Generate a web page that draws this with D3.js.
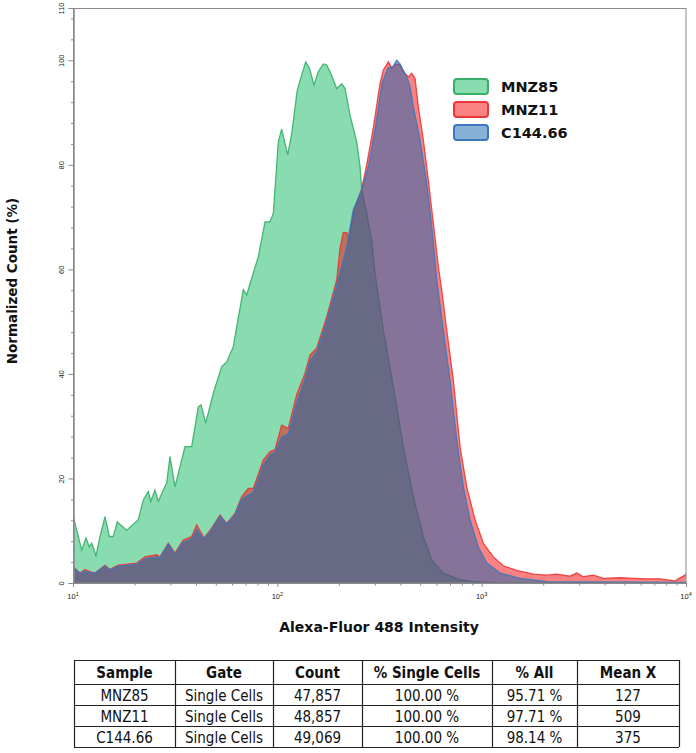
<!DOCTYPE html>
<html><head><meta charset="utf-8">
<script src="https://cdn.jsdelivr.net/npm/d3@7"></script>
<style>body{margin:0;background:#fff}</style>
</head><body><svg id="c" width="696" height="753"></svg>
<script>
const seriesNames = ["MNZ85", "MNZ11", "C144.66"];

const mnz85Intensity = [10.0, 11.03, 11.58, 12.02, 12.35, 12.96, 13.56, 14.34, 15.05, 15.75, 16.47, 18.31, 20.87, 22.08, 23.36, 24.01, 25.19, 26.15, 27.66, 28.74, 29.83, 31.56, 35.33, 38.10, 41.05, 42.32, 44.62, 48.60, 53.43, 56.52, 60.89, 63.26, 68.15, 70.81, 74.91, 80.70, 87.05, 92.07, 95.57, 101.1, 105.0, 112.4, 117.6, 125.2, 131.6, 137.7, 143.4, 151.2, 158.7, 167.9, 174.4, 182.4, 195.3, 206.5, 214.4, 226.8, 244.6, 253.9, 258.8, 273.8, 289.6, 300.6, 330.1, 369.4, 413.4, 462.9, 518.1, 569.5, 649.1, 783.4, 910.2, 1230, 10000];
const mnz85Count = [13.0, 6.3, 8.6, 6.9, 7.6, 5.2, 8.9, 12.7, 8.9, 8.9, 11.7, 10.1, 12.1, 15.9, 17.5, 15.6, 17.8, 15.6, 17.8, 19.1, 24.2, 18.4, 26.1, 26.1, 33.7, 34.1, 30.6, 36.3, 41.4, 42.3, 45.2, 49.0, 56.1, 55.1, 58.3, 62.4, 69.1, 69.1, 70.7, 84.4, 86.8, 81.9, 86.0, 94.3, 97.2, 99.7, 98.5, 95.3, 97.8, 99.3, 99.1, 97.5, 94.6, 95.5, 94.6, 89.5, 84.4, 79.7, 75.2, 70.7, 65.6, 59.2, 48.4, 37.6, 26.1, 16.5, 8.9, 4.4, 1.9, 0.6, 0.25, 0, 0];

const mnz11Intensity = [10.0, 10.82, 11.45, 12.11, 12.81, 14.34, 15.17, 16.66, 20.50, 22.51, 25.68, 26.66, 29.27, 31.56, 34.66, 38.10, 40.32, 43.77, 47.72, 52.42, 56.52, 62.06, 66.91, 72.09, 76.29, 85.36, 92.07, 97.41, 105.0, 113.2, 124.4, 136.6, 144.5, 155.8, 174.4, 195.3, 202.6, 210.3, 219.3, 224.3, 235.4, 258.8, 273.8, 294.9, 318.1, 330.1, 349.3, 362.8, 383.8, 398.4, 413.4, 437.5, 454.7, 471.9, 489.7, 518.1, 548.2, 580.0, 613.6, 637.5, 674.5, 726.4, 783.4, 844.9, 927.7, 1019, 1140, 1276, 1484, 1789, 2081, 2329, 2706, 2919, 3144, 3519, 3939, 4753, 5523, 6423, 7463, 8836, 9888, 10000];
const mnz11Count = [3.1, 1.9, 2.6, 2.2, 1.9, 3.4, 2.6, 3.4, 3.8, 5.0, 5.4, 5.0, 7.6, 5.7, 8.2, 8.9, 11.1, 8.6, 10.5, 13.0, 11.4, 13.3, 16.5, 18.1, 18.1, 23.5, 25.1, 25.5, 30.2, 29.6, 36.0, 40.1, 43.6, 44.9, 50.9, 58.0, 64.0, 67.0, 67.0, 65.5, 70.7, 75.5, 80.0, 87.0, 95.6, 98.1, 99.7, 98.5, 99.3, 99.1, 97.8, 96.8, 97.5, 96.5, 91.1, 84.8, 77.1, 68.8, 60.5, 56.1, 48.4, 38.8, 26.1, 18.4, 12.1, 7.6, 5.0, 3.3, 2.4, 1.7, 1.5, 1.7, 1.3, 1.9, 1.2, 1.5, 0.9, 1.0, 0.9, 0.8, 0.8, 0.4, 1.5, 1.8];

const c14466Intensity = [10.0, 10.82, 11.45, 12.11, 12.81, 14.34, 15.17, 16.66, 20.50, 22.51, 25.68, 26.66, 29.27, 31.56, 34.66, 38.10, 40.32, 43.77, 47.72, 52.42, 56.52, 62.06, 66.91, 72.09, 76.29, 85.36, 92.07, 97.41, 105.0, 113.2, 124.4, 136.6, 144.5, 155.8, 174.4, 195.3, 218.5, 235.4, 258.8, 280.1, 301.6, 325.3, 348.0, 368.2, 383.8, 398.4, 429.7, 446.0, 462.9, 499.2, 538.3, 569.5, 602.6, 649.1, 699.9, 754.8, 813.0, 876.9, 962.8, 1058, 1230, 1540, 2081, 3519, 10000];
const c14466Count = [3.0, 1.8, 2.3, 2.0, 1.9, 3.2, 2.5, 3.2, 3.6, 4.6, 5.0, 4.8, 7.4, 5.5, 7.8, 8.4, 10.2, 8.4, 10.2, 12.8, 11.2, 13.0, 16.0, 16.8, 17.3, 22.5, 24.5, 25.0, 28.0, 28.5, 34.5, 39.0, 42.5, 44.2, 50.0, 57.0, 64.3, 71.4, 75.2, 80.0, 87.0, 95.6, 98.5, 98.8, 100.0, 99.3, 96.8, 95.0, 91.1, 84.8, 76.5, 68.2, 58.0, 48.4, 38.8, 27.4, 18.4, 12.1, 6.9, 3.8, 1.9, 0.9, 0.25, 0.2, 0.1];

const yMajorTicks = [0, 20, 40, 60, 80, 100, 110];
const xMajorTicks = [10, 100, 1000, 10000];
const xTickExponents = ["1", "2", "3", "4"];

const tableColumns = ["Sample", "Gate", "Count", "% Single Cells", "% All", "Mean X"];
const tableGate = ["Single Cells", "Single Cells", "Single Cells"];
const tableCount = ["47,857", "48,857", "49,069"];
const tablePctSingle = ["100.00 %", "100.00 %", "100.00 %"];
const tablePctAll = ["95.71 %", "97.71 %", "98.14 %"];
const tableMeanX = ["127", "509", "375"];

// ---------- drawing ----------
const svg = d3.select("#c");
svg.append("rect").attr("width", 696).attr("height", 753).attr("fill", "#fff");

const x = d3.scaleLog().domain([10, 10000]).range([73, 686]);
const y = d3.scaleLinear().domain([0, 110]).range([583, 8]);

const styles = [
  {fill: "rgb(17,185,97)", stroke: "rgb(55,175,105)"},
  {fill: "rgb(245,5,5)", stroke: "rgb(235,55,55)"},
  {fill: "rgb(18,100,176)", stroke: "rgb(60,120,190)"}
];
const series = [
  d3.zip(mnz85Intensity, mnz85Count),
  d3.zip(mnz11Intensity, mnz11Count),
  d3.zip(c14466Intensity, c14466Count)
];

svg.append("clipPath").attr("id", "plotclip")
  .append("rect").attr("x", 73).attr("y", 8).attr("width", 613).attr("height", 575);

const area = d3.area().x(d => x(d[0])).y0(y(0)).y1(d => y(d[1]));
const line = d3.line().x(d => x(d[0])).y(d => y(d[1]));

const plot = svg.append("g").attr("clip-path", "url(#plotclip)");
series.forEach((s, i) => {
  plot.append("path").datum(s).attr("d", area)
    .attr("fill", styles[i].fill).attr("fill-opacity", 0.5);
  plot.append("path").datum(s).attr("d", line)
    .attr("fill", "none").attr("stroke", styles[i].stroke)
    .attr("stroke-width", 1.3).attr("stroke-opacity", 0.9);
});

// frame
const axisColor = "#8a8a8a";
svg.append("rect").attr("x", 73.5).attr("y", 8.5).attr("width", 612.5).attr("height", 574.5)
  .attr("fill", "none").attr("stroke", axisColor).attr("stroke-width", 1);

// y axis
const yMinor = d3.range(4, 110, 4).filter(v => v % 20 !== 0);
const yMinorAxis = svg.append("g").attr("transform", "translate(73.5,0)")
  .call(d3.axisLeft(y).tickValues(yMinor).tickSize(2.5).tickFormat(""));
const yAxis = svg.append("g").attr("transform", "translate(73.5,0)")
  .call(d3.axisLeft(y).tickValues(yMajorTicks).tickSize(5).tickFormat(d3.format("d")));
[yMinorAxis, yAxis].forEach(g => {
  g.select(".domain").attr("stroke", axisColor);
  g.selectAll(".tick line").attr("stroke", axisColor);
});
yAxis.selectAll(".tick text")
  .attr("x", null).attr("dy", null)
  .attr("transform", "translate(-12,0) rotate(-90)")
  .attr("text-anchor", "middle").attr("dominant-baseline", "central")
  .attr("font-family", "Liberation Sans, Arial, sans-serif").attr("font-size", 7.5)
  .attr("fill", "#222");

// x axis
const xMinor = [];
[10, 100, 1000].forEach(k => { for (let m = 2; m <= 9; m++) xMinor.push(k * m); });
const xMinorAxis = svg.append("g").attr("transform", "translate(0,583)")
  .call(d3.axisBottom(x).tickValues(xMinor).tickSize(2.5).tickFormat(""));
const xAxis = svg.append("g").attr("transform", "translate(0,583)")
  .call(d3.axisBottom(x).tickValues(xMajorTicks).tickSize(4).tickFormat(""));
[xMinorAxis, xAxis].forEach(g => {
  g.select(".domain").attr("stroke", axisColor);
  g.selectAll(".tick line").attr("stroke", axisColor);
});
const xl = svg.append("g");
xMajorTicks.forEach((v, i) => {
  const t = xl.append("text").attr("x", x(v)).attr("y", 599)
    .attr("text-anchor", "middle")
    .attr("font-family", "Liberation Sans, Arial, sans-serif").attr("font-size", 7.5)
    .attr("fill", "#222");
  t.append("tspan").text("10");
  t.append("tspan").attr("dy", -3).attr("font-size", 5.5).text(xTickExponents[i]);
});

// axis titles
svg.append("text").attr("x", 379).attr("y", 632).attr("text-anchor", "middle")
  .attr("font-family", "DejaVu Sans, Verdana, sans-serif").attr("font-weight", "bold")
  .attr("font-size", 14).attr("fill", "#111").text("Alexa-Fluor 488 Intensity");
svg.append("text").attr("transform", "translate(17,281) rotate(-90)").attr("text-anchor", "middle")
  .attr("font-family", "DejaVu Sans, Verdana, sans-serif").attr("font-weight", "bold")
  .attr("font-size", 13.5).attr("fill", "#111").text("Normalized Count (%)");

// legend
const lg = svg.append("g");
seriesNames.forEach((n, i) => {
  const yy = 79 + i * 23;
  lg.append("rect").attr("x", 454).attr("y", yy).attr("width", 34).attr("height", 15).attr("rx", 3)
    .attr("fill", styles[i].fill).attr("fill-opacity", 0.5)
    .attr("stroke", styles[i].stroke).attr("stroke-width", 2);
  lg.append("text").attr("x", 501).attr("y", yy + 13)
    .attr("font-family", "DejaVu Sans, Verdana, sans-serif").attr("font-weight", "bold")
    .attr("font-size", 14.5).attr("fill", "#111").text(n);
});

// table
const colEdges = [74, 175, 273, 362, 492, 577, 679];
const rowEdges = [660, 684, 705, 726, 747];
const tableRows = seriesNames.map((n, i) => [n, tableGate[i], tableCount[i], tablePctSingle[i], tablePctAll[i], tableMeanX[i]]);
const tg = svg.append("g");
tg.selectAll("line.h").data(rowEdges).join("line")
  .attr("x1", colEdges[0]).attr("x2", colEdges[colEdges.length - 1])
  .attr("y1", d => d + 0.5).attr("y2", d => d + 0.5)
  .attr("stroke", "#222").attr("stroke-width", 1.2);
tg.selectAll("line.v").data(colEdges).join("line")
  .attr("x1", d => d + 0.5).attr("x2", d => d + 0.5)
  .attr("y1", rowEdges[0]).attr("y2", rowEdges[rowEdges.length - 1])
  .attr("stroke", "#222").attr("stroke-width", 1.2);
const allRows = [tableColumns].concat(tableRows);
allRows.forEach((r, ri) => {
  r.forEach((cell, ci) => {
    tg.append("text")
      .attr("x", (colEdges[ci] + colEdges[ci + 1]) / 2)
      .attr("y", (rowEdges[ri] + rowEdges[ri + 1]) / 2 + 1)
      .attr("text-anchor", "middle").attr("dominant-baseline", "central")
      .attr("font-family", "DejaVu Sans Condensed, DejaVu Sans, sans-serif")
      .attr("font-stretch", "condensed")
      .attr("font-weight", ri === 0 ? "bold" : "normal")
      .attr("font-size", 15).attr("fill", "#111").text(cell);
  });
});
</script></body></html>
